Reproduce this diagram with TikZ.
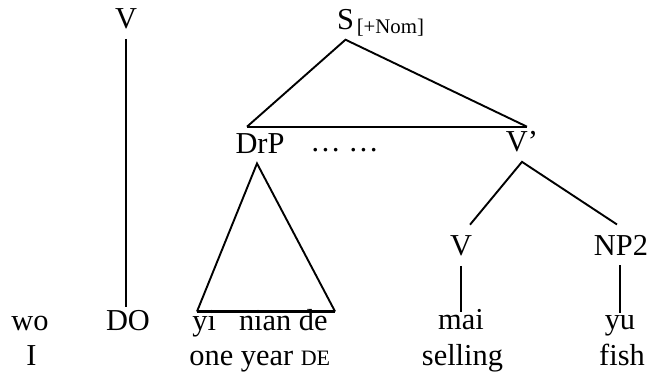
\documentclass[tikz,border=0pt]{standalone}
\usepackage{fontspec}
\setmainfont{Liberation Serif}
\usetikzlibrary{positioning}

\newcommand{\treefont}{\fontsize{15.2}{18}\selectfont}
\newcommand{\subfont}{\fontsize{10.4}{12}\selectfont}
\newcommand{\glossfont}{\fontsize{11}{12}\selectfont}

\tikzset{
    cat/.style={font=\treefont, inner xsep=0pt, inner ysep=5pt, anchor=base},
    word/.style={font=\treefont, inner xsep=0pt, inner ysep=1pt, anchor=base},
    branch/.style={line width=0.95pt},
    stem/.style={line width=0.75pt},
    bar/.style={line width=1.15pt}
}

\begin{document}
\begin{tikzpicture}[x=0.5pt, y=-0.5pt]
    \useasboundingbox (0, 0) rectangle (650, 376);

    \node[cat] (topV) at (126, 28) {V};
    \node[cat] (S) at (345.5, 29) {S};
    \node[cat, font=\subfont, anchor=base west, inner ysep=0pt] (nom) at ([xshift=1pt, yshift=-2pt]S.base east) {[+Nom]};
    \node[cat] (DrP) at (260, 153) {DrP};
    \node[cat] (dots) at (344.5, 151) {… …};
    \node[cat] (Vbar) at (522, 151) {V’};
    \node[cat] (lowV) at (461, 255) {V};
    \node[cat] (NP) at (621, 255) {NP2};

    \node[word] (wo) at (30, 330) {wo};
    \node[word] (DO) at (128, 330) {DO};
    \node[word, anchor=base west] (ynd) at (192, 330) {yi\hspace{11.5pt}nian de};
    \node[word] (mai) at (461, 329) {mai};
    \node[word] (yu) at (620, 329) {yu};

    \node[word] (I) at (31.5, 365) {I};
    \node[word, anchor=base west] (oneyear) at (189, 365) {one year {\glossfont DE}};
    \node[word] (selling) at (462.5, 365) {selling};
    \node[word] (fish) at (622, 365) {fish};

    \path (DrP.north) ++(-13, 4) coordinate (lft);
    \path (lft -| Vbar.north) ++(5, 0) coordinate (rgt);
    \draw[branch] (lft) -- (S.south) -- (rgt);
    \draw[bar] (lft) -- (rgt);

    \path (DrP.south) ++(-3, 0) coordinate (tip);
    \path (ynd.north west) ++(5, 5) coordinate (tl);
    \path (ynd.north east) ++(7, 5) coordinate (tr);
    \draw[branch] (tl) -- (tip) -- (tr);
    \draw[bar] (tl) -- (tr);

    \draw[branch] ([xshift=4.5pt]lowV.north) -- (Vbar.south) -- ([xshift=-2pt]NP.north);

    \draw[stem] (topV.south) -- (topV.south |- DO.north);
    \draw[stem] (lowV.south) -- ++(0, 46);
    \draw[stem] (yu.north |- NP.south) -- (yu.north);
\end{tikzpicture}
\end{document}
